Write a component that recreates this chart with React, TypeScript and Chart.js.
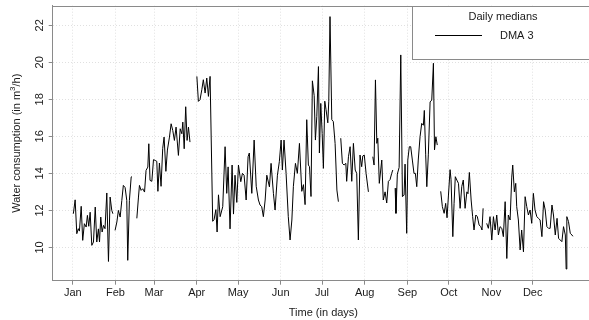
import React, { useEffect, useRef } from "react";
import { Chart, registerables } from "chart.js";

Chart.register(...registerables);

// ---------- data ----------
const monthLabels = ["Jan", "Feb", "Mar", "Apr", "May", "Jun", "Jul", "Aug", "Sep", "Oct", "Nov", "Dec"];
const monthStartDays = [0, 31, 59, 90, 120, 151, 181, 212, 243, 273, 304, 334];
const yTickValues = [10, 12, 14, 16, 18, 20, 22];
const legendTitle = "Daily medians";
const seriesLabel = "DMA 3";
const xTitle = "Time (in days)";
const yTitleMain = "Water consumption (in m";
const yTitleSup = "3";
const yTitleTail = "/h)";

// day of year (0 = 1 Jan)
const days = [
  0.4, 1.7, 2.9, 4.0, 4.8, 6.1, 7.2, 8.4, 9.7, 10.6,
  11.6, 12.6, 13.8, 15.0, 16.3, 17.4, 18.6, 19.4, 20.3, 21.3,
  22.3, 23.4, 24.7, 25.9, 27.1, 28.3, 29.1, 29.9, 30.7, 32.0,
  33.1, 34.4, 35.6, 36.7, 38.0, 39.2, 39.9, 41.1, 42.4, 43.0,
  44.9, 46.5, 47.7, 48.4, 49.6, 50.8, 52.1, 53.2, 54.5, 55.2,
  56.1, 57.4, 58.6, 59.8, 61.0, 61.8, 62.9, 64.1, 65.3, 66.3,
  67.6, 68.7, 70.2, 71.4, 72.6, 73.8, 75.0, 76.7, 78.0, 79.2,
  79.9, 80.9, 82.0, 83.0, 84.0, 85.1, 87.6, 90.1, 91.2, 92.4,
  93.7, 94.8, 96.1, 97.3, 98.5, 99.7, 101.6, 102.6, 103.9, 104.8,
  105.8, 107.0, 108.9, 110.6, 111.8, 112.8, 114.2, 115.7, 116.7, 117.8,
  119.1, 120.3, 122.0, 123.2, 124.4, 125.9, 127.3, 128.2, 130.0, 131.7,
  133.2, 134.8, 136.0, 137.2, 138.4, 139.7, 140.9, 142.8, 144.0, 145.7,
  146.9, 148.6, 150.0, 151.3, 152.2, 153.4, 154.9, 156.5, 157.8, 159.1,
  160.2, 161.7, 163.1, 164.6, 166.3, 167.5, 168.7, 169.9, 171.1, 171.9,
  173.0, 174.0, 175.3, 176.2, 177.2, 178.4, 179.1, 180.1, 181.1, 182.0,
  183.0, 183.9, 185.2, 185.9, 186.8, 188.1, 189.2, 190.5, 191.8, 192.9,
  193.8, 194.6, 195.8, 197.0, 198.3, 198.9, 200.2, 201.4, 202.6, 203.8,
  205.1, 206.2, 207.4, 208.6, 209.8, 210.6, 211.7, 213.0, 214.7, 216.2,
  217.9, 218.8, 219.8, 220.8, 221.5, 222.6, 224.4, 225.5, 226.8, 228.0,
  229.2, 230.4, 231.6, 232.4, 233.3, 234.1, 234.7, 235.7, 237.0, 238.2,
  239.4, 240.6, 241.3, 242.5, 243.3, 244.4, 245.4, 246.6, 247.8, 248.8,
  249.8, 250.9, 252.2, 253.4, 254.6, 255.3, 256.3, 257.1, 258.2, 259.5,
  260.7, 261.9, 262.7, 263.7, 264.7, 266.1, 267.2, 268.4, 269.7, 270.8,
  271.8, 272.8, 274.0, 274.7, 276.0, 276.9, 277.8, 278.9, 280.1, 281.3,
  282.5, 283.6, 284.9, 286.2, 287.0, 288.0, 289.3, 290.4, 291.4, 292.7,
  293.8, 295.1, 296.3, 297.2, 298.0, 299.3, 300.6, 301.8, 303.0, 304.3,
  305.5, 306.7, 307.9, 309.1, 310.3, 311.6, 312.7, 314.0, 315.2, 316.3,
  317.6, 318.8, 319.5, 320.7, 321.7, 322.4, 323.6, 324.9, 326.0, 327.3,
  328.5, 329.7, 330.9, 332.1, 333.3, 334.5, 335.7, 337.0, 338.2, 339.4,
  340.7, 341.9, 343.1, 344.3, 345.5, 346.7, 348.0, 349.1, 350.4, 351.7,
  352.8, 354.0, 355.2, 356.4, 357.7, 358.3, 358.8, 360.0, 361.3, 362.5,
  363.2,
];

// daily median water consumption, m3/h (null = missing day)
const consumption: (number | null)[] = [
  11.82, 12.57, 10.74, 11.01, 10.88, 12.22, 10.38, 11.28, 11.10, 11.73,
  11.14, 11.90, 10.11, 10.29, 12.18, 10.29, 11.00, 10.29, 11.64, 10.83,
  11.19, 11.01, 12.94, 9.24, 12.72, 12.00, 11.82, null, 10.92, 11.37,
  12.00, 11.64, 12.54, 13.35, 13.23, 12.54, 9.30, 12.54, 13.80, 13.83,
  null, 11.57, 12.72, 13.35, 13.08, 13.17, 12.99, 14.16, 14.34, 15.60,
  13.62, 13.57, 14.74, 14.70, 14.65, 13.03, 14.56, 13.30, 15.35, 15.96,
  14.11, 15.26, 15.96, 16.68, 16.32, 15.78, 16.50, 14.97, 16.41, 16.14,
  16.77, 15.33, 17.60, 15.78, 16.50, 15.69, null, 19.24, 17.89, 17.98,
  18.52, 19.06, 18.34, 19.15, 18.16, 19.24, 11.41, 11.50, 12.04, 10.83,
  12.84, 11.66, 12.20, 15.44, 12.92, 14.35, 11.00, 14.45, 11.80, 13.90,
  12.43, 14.45, 13.55, 14.00, 13.90, 12.56, 14.90, 15.10, 12.92, 15.80,
  13.30, 12.56, 12.29, 12.20, 11.66, 12.56, 13.90, 13.27, 14.54, 12.92,
  12.02, 13.90, 14.63, 15.80, 14.18, 15.80, 14.00, 11.66, 10.40, 11.48,
  13.30, 14.54, 14.00, 15.62, 13.03, 13.39, 12.31, 16.90, 14.45, 14.36,
  12.75, 19.00, 18.20, 15.80, 17.06, 19.77, 15.10, 17.78, 16.16, 14.27,
  17.90, 17.46, 16.73, 17.90, 22.47, 16.90, 16.80, 15.62, 13.10, 12.47,
  null, 15.90, 14.54, 14.45, 14.54, 13.57, 14.90, 15.44, 13.57, 15.62,
  14.18, 14.00, 10.40, 14.99, 14.36, 14.94, 14.99, 14.00, 13.00, null,
  14.90, 14.45, 19.05, 15.62, 15.90, 13.46, 14.72, 12.56, 13.00, 12.40,
  13.57, 13.66, 14.00, 14.18, null, 13.20, 11.84, 13.96, 14.32, 20.40,
  12.74, 12.83, 14.50, 10.76, 14.72, 15.44, 15.44, 14.72, 14.00, 14.00,
  13.28, 14.72, 15.98, 16.70, 16.60, 17.40, 15.00, 13.28, 15.00, 17.86,
  17.96, 19.95, 15.27, 15.98, 15.53, null, 13.03, 12.20, 11.84, 12.38,
  11.60, 12.78, 14.20, 13.66, 10.58, 12.38, 13.82, 13.64, 13.46, 12.11,
  13.29, 13.64, 12.11, 13.00, 12.90, 14.05, 12.56, 11.66, 10.94, 11.75,
  11.66, 11.21, 11.12, 10.94, 12.11, null, 11.30, 11.03, 11.66, 10.40,
  11.66, 10.94, 11.75, 10.67, 11.12, 11.03, 10.58, 12.47, 9.40, 11.75,
  11.48, 13.80, 14.45, 13.00, 13.46, 12.20, 11.48, 9.86, 10.94, 9.76,
  12.74, 12.20, 11.75, 12.02, 11.30, 12.92, 12.02, 11.66, 11.57, 11.48,
  10.58, 12.47, 12.02, 11.12, 11.03, 11.03, 12.29, 11.75, 10.67, 11.57,
  10.49, 10.40, 10.31, 11.12, 10.67, 8.83, 11.66, 11.40, 10.76, 10.67,
  10.60,
];

// ---------- styling ----------
const FONT = '"Liberation Sans", Arial, Helvetica, sans-serif';
const TEXT = "#1a1a1a";
const AXIS = "#8a8a8a";
const GRID = "#e0e0e0";
const X_MIN = -14.6;
const X_MAX = 374.9;
const Y_MIN = 8.2;
const Y_MAX = 23.06;
const Y_AXIS_WIDTH = 52.7;
const X_AXIS_HEIGHT = 39.3;
const TOP_PAD = 5.7;

const decorPlugin = {
  id: "decor",
  afterDraw(chart: any) {
    const { ctx, chartArea: a, scales } = chart;
    const xs = scales.x;
    const ys = scales.y;
    ctx.save();

    // top frame line
    ctx.strokeStyle = AXIS;
    ctx.lineWidth = 1;
    ctx.setLineDash([]);
    const ty = Math.round(a.top) + 0.5;
    ctx.beginPath();
    ctx.moveTo(a.left, ty);
    ctx.lineTo(a.right, ty);
    ctx.stroke();

    // rotated y tick labels
    ctx.fillStyle = TEXT;
    ctx.font = `11px ${FONT}`;
    ctx.textAlign = "center";
    ctx.textBaseline = "middle";
    for (const v of yTickValues) {
      const py = ys.getPixelForValue(v);
      ctx.save();
      ctx.translate(39.5, py);
      ctx.rotate(-Math.PI / 2);
      ctx.fillText(String(v), 0, 0);
      ctx.restore();
    }

    // y title with superscript
    ctx.save();
    ctx.translate(17, (a.top + a.bottom) / 2);
    ctx.rotate(-Math.PI / 2);
    ctx.textAlign = "left";
    ctx.textBaseline = "middle";
    ctx.font = `11px ${FONT}`;
    const w1 = ctx.measureText(yTitleMain).width;
    const w3 = ctx.measureText(yTitleTail).width;
    ctx.font = `8px ${FONT}`;
    const w2 = ctx.measureText(yTitleSup).width;
    let sx = -(w1 + w2 + w3) / 2;
    ctx.font = `11px ${FONT}`;
    ctx.fillText(yTitleMain, sx, 0);
    sx += w1;
    ctx.font = `8px ${FONT}`;
    ctx.fillText(yTitleSup, sx, -4);
    sx += w2;
    ctx.font = `11px ${FONT}`;
    ctx.fillText(yTitleTail, sx, 0);
    ctx.restore();

    // x title, centred on the data period
    ctx.textAlign = "center";
    ctx.textBaseline = "middle";
    ctx.font = `11px ${FONT}`;
    ctx.fillText(xTitle, xs.getPixelForValue(182), 312.5);

    // legend box
    const lx = 412.5;
    const lyTop = Math.round(a.top) + 0.5;
    const lyBottom = 59.5;
    ctx.fillStyle = "#ffffff";
    ctx.fillRect(lx, lyTop, a.right + 20 - lx, lyBottom - lyTop);
    ctx.strokeStyle = AXIS;
    ctx.strokeRect(lx, lyTop, a.right + 20 - lx, lyBottom - lyTop);
    ctx.fillStyle = TEXT;
    ctx.textAlign = "center";
    ctx.fillText(legendTitle, 503, 16.5);
    ctx.strokeStyle = "#000000";
    ctx.beginPath();
    ctx.moveTo(435, 35.5);
    ctx.lineTo(482, 35.5);
    ctx.stroke();
    ctx.textAlign = "left";
    ctx.fillText(seriesLabel, 500, 36);

    ctx.restore();
  },
};

export default function App() {
  const canvasRef = useRef<HTMLCanvasElement | null>(null);

  useEffect(() => {
    const canvas = canvasRef.current;
    if (!canvas) return;
    const points = days.map((d, i) => ({ x: d, y: consumption[i] }));
    const chart = new Chart(canvas, {
      type: "line",
      data: {
        datasets: [
          {
            label: seriesLabel,
            data: points as any,
            borderColor: "#000000",
            borderWidth: 1,
            pointRadius: 0,
            tension: 0,
            spanGaps: false,
            fill: false,
          },
        ],
      },
      options: {
        animation: false,
        responsive: false,
        maintainAspectRatio: false,
        devicePixelRatio: 1,
        events: [],
        layout: { padding: { top: TOP_PAD, left: 0, right: 0, bottom: 0 } },
        plugins: {
          legend: { display: false },
          tooltip: { enabled: false },
          title: { display: false },
        },
        scales: {
          x: {
            type: "linear",
            min: X_MIN,
            max: X_MAX,
            afterBuildTicks: (scale: any) => {
              scale.ticks = monthStartDays.map((v) => ({ value: v }));
            },
            afterFit: (scale: any) => {
              scale.height = X_AXIS_HEIGHT;
            },
            ticks: {
              autoSkip: false,
              maxRotation: 0,
              minRotation: 0,
              padding: 2,
              color: TEXT,
              font: { family: FONT, size: 11 },
              callback: (v: any) => {
                const idx = monthStartDays.indexOf(Number(v));
                return idx >= 0 ? monthLabels[idx] : "";
              },
            },
            grid: {
              color: GRID,
              lineWidth: 1,
              drawTicks: true,
              tickLength: 4,
              tickColor: AXIS,
              tickWidth: 1,
              tickBorderDash: [],
            },
            border: { display: true, color: AXIS, width: 1, dash: [1, 2] },
          },
          y: {
            type: "linear",
            min: Y_MIN,
            max: Y_MAX,
            afterBuildTicks: (scale: any) => {
              scale.ticks = yTickValues.map((v) => ({ value: v }));
            },
            afterFit: (scale: any) => {
              scale.width = Y_AXIS_WIDTH;
            },
            ticks: { display: false },
            grid: {
              color: GRID,
              lineWidth: 1,
              drawTicks: true,
              tickLength: 4,
              tickColor: AXIS,
              tickWidth: 1,
              tickBorderDash: [],
            },
            border: { display: true, color: AXIS, width: 1, dash: [1, 2] },
          },
        },
      },
      plugins: [decorPlugin],
    });
    return () => chart.destroy();
  }, []);

  return (
    <div style={{ position: "fixed", left: 0, top: 0, width: 589, height: 320, background: "#ffffff" }}>
      <canvas ref={canvasRef} width={589} height={320} style={{ display: "block", width: 589, height: 320 }} />
    </div>
  );
}
